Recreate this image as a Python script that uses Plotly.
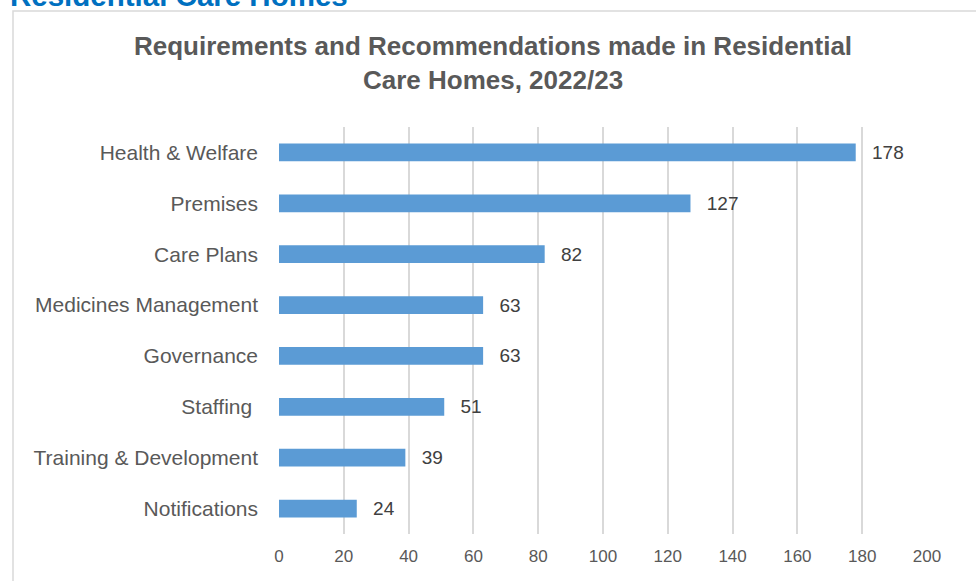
import plotly.graph_objects as go

categories = ["Health & Welfare", "Premises", "Care Plans", "Medicines Management",
              "Governance", "Staffing ", "Training & Development", "Notifications"]
values = [178, 127, 82, 63, 63, 51, 39, 24]
x_ticks = [0, 20, 40, 60, 80, 100, 120, 140, 160, 180, 200]

W, H = 976, 581
L, R, T, B = 279, 49, 127, 47
pw, ph = W - L - R, H - T - B
FONT = "Liberation Sans, Arial, sans-serif"


def px_x(p):
    return (p - L) / pw


def px_y(p):
    return (H - B - p) / ph


fig = go.Figure(go.Bar(
    y=categories, x=values, orientation="h",
    marker=dict(color="#5B9BD5", line=dict(width=0)),
    text=[str(v) for v in values], texttemplate="\u2002\u2009%{text}",
    textposition="outside", constraintext="none",
    textfont=dict(family=FONT, size=19, color="#404040"),
    cliponaxis=False,
))

fig.update_layout(
    width=W, height=H,
    margin=dict(l=L, r=R, t=T, b=B),
    paper_bgcolor="white", plot_bgcolor="white",
    bargap=0.65,
    showlegend=False,
    font=dict(family=FONT, color="#595959"),
    xaxis=dict(range=[0, 200], tickvals=x_ticks, showgrid=True, gridcolor="#D9D9D9",
               gridwidth=1.5, zeroline=False, showline=False, ticks="",
               tickfont=dict(size=17, color="#595959"), ticklabelstandoff=10),
    yaxis=dict(autorange="reversed", showgrid=False, zeroline=False, showline=False,
               ticks="", ticklabelstandoff=20,
               tickfont=dict(size=21, color="#595959")),
    shapes=[dict(type="rect", xref="paper", yref="paper",
                 x0=px_x(13), x1=px_x(1100), y0=px_y(11), y1=px_y(700),
                 line=dict(color="#D9D9D9", width=1.5), fillcolor="rgba(0,0,0,0)",
                 layer="below")],
    annotations=[
        dict(text="<b>Requirements and Recommendations made in Residential<br>Care Homes, 2022/23</b>",
             xref="paper", yref="paper", x=px_x(493), y=px_y(63), xanchor="center", yanchor="middle",
             showarrow=False, align="center",
             font=dict(family=FONT, size=26, color="#595959")),
        dict(text="<b>Residential Care Homes</b>",
             xref="paper", yref="paper", x=px_x(8), y=px_y(-5), xanchor="left", yanchor="middle",
             showarrow=False,
             font=dict(family=FONT, size=29.5, color="#0070C0")),
    ],
)

fig.write_html("out.html")
